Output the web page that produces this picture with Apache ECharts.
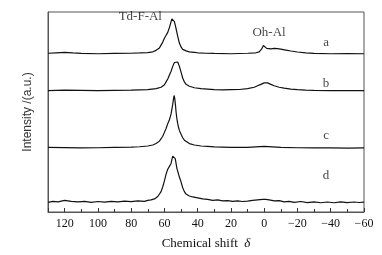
<!DOCTYPE html>
<html>
<head>
<meta charset="utf-8">
<script src="https://cdn.jsdelivr.net/npm/echarts@6/dist/echarts.min.js"></script>
<style>html,body{margin:0;padding:0;background:#fff}#c{width:382px;height:255px}</style>
</head>
<body>
<div id="c"></div>
<script>
// chemical shift (ppm), intensity above baseline (a.u.)
const traceA = [[130,0.5],[125,1],[120,1.5],[115,0.8],[110,0.3],[100,0],[90,0.3],[80,0.5],[75,0.8],[70,1.2],[67,2],[65,3.5],[63,6],[62,8],[61,12],[60,16],[59,19],[58,22],[57,27],[56,33],[55.5,36],[55,37.5],[54.5,36.5],[54,33],[53,26],[52,18],[51,11],[50,7],[49,4.5],[47,3],[45,2],[42,1.5],[40,1],[35,0.5],[30,0.3],[20,0],[10,0.5],[5,1],[3,2],[1.5,5],[0.5,8.5],[0,10],[-0.5,8.5],[-1.5,5.5],[-2.5,4.5],[-4,5],[-6,5.5],[-8,5.3],[-10,4.8],[-13,3.8],[-16,2.8],[-20,1.8],[-25,0.8],[-30,0.3],[-40,0],[-50,0.2],[-60,0]];
const traceB = [[130,0],[120,0.5],[110,0.3],[100,0],[90,0.3],[80,0.5],[70,1],[65,2],[62,3.5],[60,6],[59,9],[58,12],[57,16],[56,20],[55,25],[54,29],[53,31],[52,29.5],[51,25],[50,19],[49,13],[48,9],[47,6.5],[45,4.5],[42,3],[38,2],[34,1.5],[30,1],[25,0.8],[20,1],[15,1.2],[10,2],[6,3.5],[4,5],[2,6.5],[0,8],[-1,8.5],[-2,8],[-4,6.5],[-6,5],[-9,3.5],[-12,2.5],[-16,1.5],[-20,1],[-25,0.5],[-30,0.3],[-40,0],[-50,0],[-60,0]];
const traceC = [[130,0.5],[120,0.3],[110,0],[100,0.2],[90,0.5],[80,0.8],[75,1.2],[70,2],[67,3],[65,4.5],[63,7],[62,9],[61,12],[60,16],[59,20],[58,25],[57,29],[56.5,32],[56,35],[55.5,40],[55,45],[54.5,51],[54.2,54],[53.8,51],[53.3,43],[53,37],[52.5,30],[52,25],[51.5,21],[51,18],[50,14],[49,10.5],[48,8],[47,6.5],[45,4.5],[42,3],[38,2],[34,1.5],[30,1],[25,0.8],[20,0.5],[10,0.5],[5,1],[0,1.5],[-5,1],[-10,0.5],[-20,0.2],[-30,0],[-40,0],[-50,-0.3],[-60,0]];
const traceD = [[130,0],[127,1],[124,0.5],[120,2],[116,1],[112,0.5],[108,1],[104,0],[100,0.8],[96,0.2],[92,1],[88,0.5],[84,1.2],[80,0.6],[76,1.5],[72,1],[70,2],[68,2.5],[66,3.5],[64,6],[63,8],[62,11],[61,16],[60,22],[59,29],[58,34],[57.5,36],[57,37],[56.5,38],[56,40],[55.5,44],[55,47.5],[54.5,49],[54,48],[53.5,45],[53,40],[52.5,35],[52,32],[51.5,29],[51,26],[50,21],[49,15],[48,11],[47,8.5],[45,6.5],[43,5.5],[40,4.5],[37,3.5],[34,3],[31,2],[28,2.5],[25,1.5],[22,1.8],[19,1],[16,1.5],[13,0.8],[10,1.2],[7,2],[4,2.5],[1,3],[-1,3],[-3,2.5],[-6,1.5],[-9,1.8],[-12,0.5],[-15,1],[-18,0],[-22,0.8],[-26,-0.3],[-30,0.5],[-34,-0.5],[-38,0.3],[-42,-0.5],[-46,0.4],[-50,-0.3],[-54,0.3],[-57,-0.2],[-60,0.2]];
const traceNames = ['a','b','c','d'];
const traceOffsets = [163, 125, 66, 10];
const xTicks = [120,100,80,60,40,20,0,-20,-40,-60];

const traces = [traceA, traceB, traceC, traceD];
const serif = 'Liberation Serif';
const chart = echarts.init(document.getElementById('c'));

const labelPoints = [
  {name:'Td-F-Al', value:[74.5, 201]},
  {name:'Oh-Al', value:[-2.9, 185]},
  {name:'a', value:[-37.2, 175]},
  {name:'b', value:[-37.2, 132]},
  {name:'c', value:[-37.2, 79]},
  {name:'d', value:[-37.2, 37]}
];

const series = traces.map((t, i) => ({
  type:'line', name: traceNames[i], showSymbol:false, symbol:'none', animation:false,
  lineStyle:{color:'#111', width:1.2},
  data: t.map(p => [p[0], p[1] + traceOffsets[i]])
}));
series.push({
  type:'scatter', symbolSize:1, itemStyle:{color:'transparent'}, animation:false,
  data: labelPoints,
  label:{show:true, position:'inside', formatter:'{b}', fontFamily:serif, fontSize:13, color:'#111'}
});

chart.setOption({
  animation:false,
  grid:{left:48, right:18, top:12, bottom:37, show:true, borderColor:'#555', borderWidth:1},
  xAxis:{
    type:'value', min:-60, max:130, interval:20, inverse:true,
    axisLine:{show:true, onZero:false, lineStyle:{color:'#555'}},
    axisTick:{show:true, inside:true, length:4, lineStyle:{color:'#333'}},
    minorTick:{show:true, splitNumber:2, length:3, lineStyle:{color:'#333'}},
    splitLine:{show:false},
    axisLabel:{fontFamily:serif, fontSize:12, color:'#111', margin:6,
      formatter: v => xTicks.includes(v) ? String(v).replace('-', '\u2212') : ''},
    name:'Chemical shift  {i|δ}', nameLocation:'middle', nameGap:25,
    nameTextStyle:{fontFamily:serif, fontSize:13, color:'#111',
      rich:{i:{fontFamily:serif, fontStyle:'italic', fontSize:13, color:'#111'}}}
  },
  yAxis:{
    type:'value', min:0, max:206,
    axisLine:{show:true, onZero:false, lineStyle:{color:'#555'}},
    axisTick:{show:false}, axisLabel:{show:false}, splitLine:{show:false},
    name:'Intensity /(a.u.)', nameLocation:'middle', nameGap:14,
    nameTextStyle:{fontFamily:'Liberation Sans', fontSize:12, color:'#333'}
  },
  series
});
</script>
</body>
</html>
